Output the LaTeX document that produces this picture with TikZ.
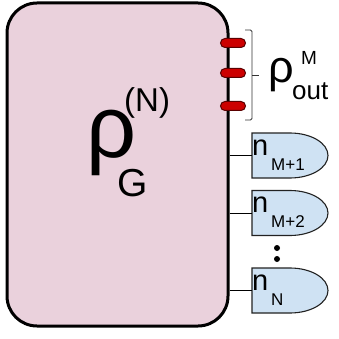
\documentclass[tikz,border=0pt]{standalone}
\usepackage{fontspec}
\setmainfont{Liberation Sans}
\begin{document}
\begin{tikzpicture}[x=1pt,y=1pt,
  bigbox/.style={draw=black, line width=3pt, fill=boxpink, rounded corners=30pt, minimum width=221pt, minimum height=323pt, inner sep=0pt},
  pill/.style={draw=pilldark, line width=1pt, fill=pillred, rounded corners=4.5pt, minimum width=25pt, minimum height=9pt, inner sep=0pt},
  detshape/.style={draw=detline, line width=1.1pt, fill=detblue},
  wire/.style={draw=black, line width=0.8pt},
  bracket/.style={draw=black!80, line width=0.8pt},
  txt/.style={inner sep=0pt, anchor=base west}
]
\definecolor{boxpink}{HTML}{EAD1DC}
\definecolor{pillred}{HTML}{CC0000}
\definecolor{pilldark}{HTML}{5A0000}
\definecolor{detblue}{HTML}{CFE2F3}
\definecolor{detline}{HTML}{222222}
\useasboundingbox (0,0) rectangle (338,-339);
\fill[white] (0,0) rectangle (338,-339);

% main box
\node[bigbox] (box) at (117.5,-164.5) {};
\node[txt, font=\fontsize{88}{88}\selectfont] (rho) at (86,-157) {ρ};
\node[txt, font=\fontsize{33}{33}\selectfont] (rhosup) at (124,-112) {(N)};
\node[txt, font=\fontsize{39}{39}\selectfont] (rhosub) at (117,-196) {G};

% output pills
\node[pill] (p1) at (233,-43) {};
\node[pill] (p2) at (233,-73) {};
\node[pill] (p3) at (233,-106) {};

% bracket
\coordinate (bt) at (245,-30);
\coordinate (bb) at (245,-120);
\coordinate (bm) at (259,-75);
\draw[bracket, rounded corners=1.5pt] (bt) -- (252,-30) -- (252,-120) -- (bb);
\draw[bracket] (252,-75) -- (bm);
\node[txt, font=\fontsize{45}{45}\selectfont] (orho) at (268,-83) {ρ};
\node[txt, font=\fontsize{19}{19}\selectfont] (osup) at (301,-65) {M};
\node[txt, font=\fontsize{26}{26}\selectfont] (osub) at (292,-100) {out};

% detectors
\foreach \i/\y in {1/133, 2/190.5, 3/268}{
  \draw[detshape] (252,-\y) -- (290,-\y) arc[start angle=90, end angle=-90, x radius=38, y radius=22.5] -- (252,-\y-45) -- cycle;
  \coordinate (d\i) at (252,-\y-22.5);
}
\draw[wire] (box.east |- d1) -- (d1);
\draw[wire] (box.east |- d2) -- (d2);
\draw[wire] (box.east |- d3) -- (d3);

\node[txt, font=\fontsize{29}{29}\selectfont] (n1) at (252,-155) {n};
\node[txt, font=\fontsize{17}{17}\selectfont] (s1) at (271,-170) {M+1};
\node[txt, font=\fontsize{29}{29}\selectfont] (n2) at (252,-212.5) {n};
\node[txt, font=\fontsize{17}{17}\selectfont] (s2) at (271,-227.5) {M+2};
\node[txt, font=\fontsize{29}{29}\selectfont] (n3) at (252,-290) {n};
\node[txt, font=\fontsize{17}{17}\selectfont] (s3) at (271,-305) {N};

% vertical dots
\fill (277,-248) circle (3);
\fill (277,-259) circle (3);
\end{tikzpicture}
\end{document}
